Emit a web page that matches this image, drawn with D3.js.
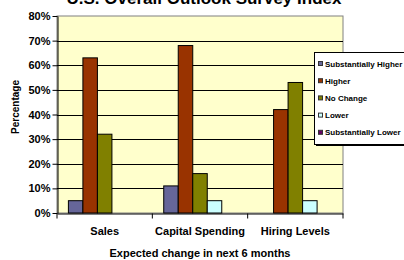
<!DOCTYPE html>
<html>
<head>
<meta charset="utf-8">
<script src="https://cdn.jsdelivr.net/npm/d3@7"></script>
<style>
  body { margin: 0; background: #fff; }
  svg { display: block; font-family: "Liberation Sans", Arial, sans-serif; font-weight: bold; }
</style>
</head>
<body>
<div class="chart"></div>
<script>
const categories = ["Sales", "Capital Spending", "Hiring Levels"];
const seriesNames = ["Substantially Higher", "Higher", "No Change", "Lower", "Substantially Lower"];
const seriesColors = ["#666699", "#993300", "#808000", "#CCFFFF", "#660066"];
const values = {
  "Substantially Higher": [0.05, 0.11, 0.00],
  "Higher": [0.63, 0.68, 0.42],
  "No Change": [0.32, 0.16, 0.53],
  "Lower": [0.00, 0.05, 0.05],
  "Substantially Lower": [0.00, 0.00, 0.00]
};
const yTicks = [0, 0.1, 0.2, 0.3, 0.4, 0.5, 0.6, 0.7, 0.8];

const width = 404, height = 260;
const plot = {left: 57, right: 343, top: 16, bottom: 213};

const svg = d3.select(".chart")
    .append("svg")
    .attr("width", width)
    .attr("height", height);

const x0 = d3.scaleBand()
    .domain(categories)
    .range([plot.left, plot.right]);

const pad = 11.4;
const x1 = d3.scaleBand()
    .domain(seriesNames)
    .range([pad, x0.bandwidth() - pad]);

const yScale = d3.scaleLinear()
    .domain([0, 0.8])
    .range([plot.bottom, plot.top]);

const colorScale = d3.scaleOrdinal().domain(seriesNames).range(seriesColors);

// plot background
svg.append("rect")
    .attr("x", plot.left)
    .attr("y", plot.top)
    .attr("width", plot.right - plot.left)
    .attr("height", plot.bottom - plot.top)
    .attr("fill", "#FFFFCC")
    .attr("stroke", "#808080")
    .attr("stroke-width", 1);

// gridlines
svg.append("g")
    .selectAll("line")
    .data(yTicks.slice(1, -1))
    .enter()
    .append("line")
    .attr("x1", plot.left)
    .attr("x2", plot.right)
    .attr("y1", d => Math.round(yScale(d)) + 0.5)
    .attr("y2", d => Math.round(yScale(d)) + 0.5)
    .attr("stroke", "#000");

// bars
const rows = [];
categories.forEach((c, i) => {
    seriesNames.forEach(s => rows.push({cat: c, series: s, value: values[s][i]}));
});

svg.append("g")
    .selectAll("rect")
    .data(rows.filter(d => d.value > 0))
    .enter()
    .append("rect")
    .attr("x", d => x0(d.cat) + x1(d.series))
    .attr("y", d => yScale(d.value))
    .attr("width", x1.bandwidth())
    .attr("height", d => yScale(0) - yScale(d.value))
    .attr("fill", d => colorScale(d.series))
    .attr("stroke", "#000")
    .attr("stroke-width", 1);

// y axis
const yAxis = d3.axisLeft(yScale)
    .tickValues(yTicks)
    .tickFormat(d3.format(".0%"))
    .tickSize(5)
    .tickSizeOuter(0);

svg.append("g")
    .attr("class", "axis y-axis")
    .attr("transform", `translate(${plot.left + 0.5}, 0)`)
    .call(yAxis)
    .call(g => g.selectAll("text").attr("font-size", 11).attr("font-weight", "bold").attr("font-family", "Liberation Sans, Arial, sans-serif").attr("fill", "#000").attr("x", -7))
    .call(g => g.selectAll("line, path").attr("stroke", "#000"));

// x axis
const xAxis = d3.axisBottom(x0).tickSize(0).tickSizeOuter(0);
const xg = svg.append("g")
    .attr("class", "axis x-axis")
    .attr("transform", `translate(0, ${plot.bottom + 0.5})`)
    .call(xAxis);
xg.select("path").attr("stroke", "#000");
xg.selectAll("text")
    .attr("font-size", 11)
    .attr("font-weight", "bold")
    .attr("font-family", "Liberation Sans, Arial, sans-serif")
    .attr("fill", "#000")
    .attr("y", 14);
xg.selectAll(".sep")
    .data(categories.slice(1).concat(["end"]))
    .enter()
    .append("line")
    .attr("x1", d => d === "end" ? plot.right : x0(d))
    .attr("x2", d => d === "end" ? plot.right : x0(d))
    .attr("y1", 0)
    .attr("y2", 5)
    .attr("stroke", "#000");
xg.append("line")
    .attr("x1", plot.left).attr("x2", plot.left)
    .attr("y1", 0).attr("y2", 5)
    .attr("stroke", "#000");

// title (cut off at the top, as in the original)
svg.append("text")
    .attr("x", 204)
    .attr("y", 4)
    .attr("text-anchor", "middle")
    .attr("font-size", 17)
    .text("U.S. Overall Outlook Survey Index");

// axis labels
svg.append("text")
    .attr("x", 200)
    .attr("y", 257)
    .attr("text-anchor", "middle")
    .attr("font-size", 11)
    .text("Expected change in next 6 months");

svg.append("text")
    .attr("transform", "translate(19, 107) rotate(-90)")
    .attr("text-anchor", "middle")
    .attr("font-size", 10)
    .text("Percentage");

// legend
const legend = svg.append("g");
legend.append("rect")
    .attr("x", 316).attr("y", 54)
    .attr("width", 100).attr("height", 92)
    .attr("fill", "#000");
legend.append("rect")
    .attr("x", 314.5).attr("y", 52.5)
    .attr("width", 100).attr("height", 92)
    .attr("fill", "#fff")
    .attr("stroke", "#000");

legend.selectAll(".legend-color")
    .data(seriesNames)
    .enter()
    .append("rect")
    .attr("x", 318.5)
    .attr("y", (d, i) => 61.5 + i * 17.2)
    .attr("width", 4)
    .attr("height", 4)
    .attr("fill", d => colorScale(d))
    .attr("stroke", "#333");

legend.selectAll(".legend-text")
    .data(seriesNames)
    .enter()
    .append("text")
    .attr("x", 325)
    .attr("y", (d, i) => 66.5 + i * 17.2)
    .attr("font-size", 8)
    .text(d => d);
</script>
</body>
</html>
